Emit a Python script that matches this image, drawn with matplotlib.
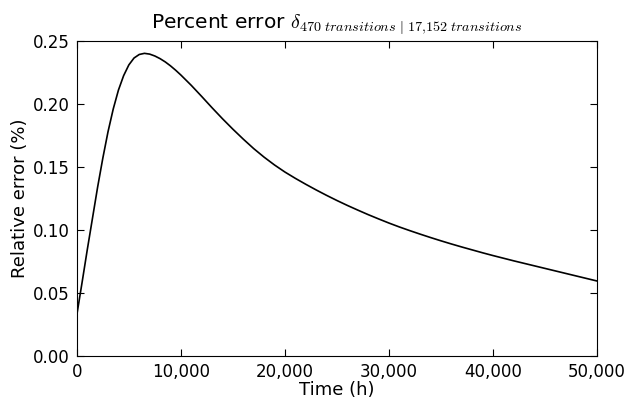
import matplotlib
matplotlib.use('Agg')
import matplotlib.pyplot as plt
from matplotlib.ticker import FuncFormatter

plt.rcParams['mathtext.fontset'] = 'cm'
plt.rcParams['font.family'] = 'DejaVu Sans'

# values
time_h = [0, 500, 1000, 1500, 2000, 2500, 3000, 3500, 4000, 4500, 5000, 5500,
          6000, 6500, 7000, 7500, 8000, 8500, 9000, 9500, 10000, 11000, 12000,
          13000, 14000, 15000, 16000, 17000, 18000, 19000, 20000, 21000, 22000,
          23000, 24000, 25000, 26000, 27000, 28000, 29000, 30000, 31000, 32000,
          33000, 34000, 35000, 36000, 37000, 38000, 39000, 40000, 41000, 42000,
          43000, 44000, 45000, 46000, 47000, 48000, 49000, 50000]
rel_error = [0.0325, 0.058, 0.084, 0.109, 0.134, 0.157, 0.178, 0.196, 0.211,
             0.2225, 0.2310, 0.2365, 0.2393, 0.2402, 0.2396, 0.2381, 0.2360,
             0.2334, 0.2303, 0.2268, 0.2230, 0.2148, 0.2060, 0.1970, 0.1883,
             0.1800, 0.1721, 0.1646, 0.1578, 0.1516, 0.1460, 0.1410, 0.1363,
             0.1318, 0.1275, 0.1234, 0.1195, 0.1158, 0.1122, 0.1088, 0.1055,
             0.1024, 0.0995, 0.0967, 0.0940, 0.0914, 0.0889, 0.0865, 0.0842,
             0.0819, 0.0797, 0.0776, 0.0755, 0.0735, 0.0715, 0.0695, 0.0675,
             0.0655, 0.0635, 0.0615, 0.0595]

fig = plt.figure(figsize=(6.4, 4.0), dpi=100)
ax = fig.add_subplot(111)
fig.subplots_adjust(left=0.12, right=0.933, top=0.8975, bottom=0.11)

ax.plot(time_h, rel_error, color='black', linewidth=1.2)

ax.set_xlim(0, 50000)
ax.set_ylim(0, 0.25)
ax.set_xticks([0, 10000, 20000, 30000, 40000, 50000])
ax.set_yticks([0.0, 0.05, 0.10, 0.15, 0.20, 0.25])
ax.xaxis.set_major_formatter(FuncFormatter(lambda v, p: '{:,.0f}'.format(v)))
ax.yaxis.set_major_formatter(FuncFormatter(lambda v, p: '%.2f' % v))
ax.tick_params(direction='in', top=True, right=True, length=5, labelsize=12, pad=5)

ax.set_xlabel('Time (h)', fontsize=13, labelpad=0)
ax.set_ylabel('Relative error (%)', fontsize=13, labelpad=3)
ax.set_title(r'Percent error $\delta_{470\ transitions\ |\ 17{,}152\ transitions}$',
             fontsize=14.5, pad=10)

fig.savefig('out.png', dpi=100)
